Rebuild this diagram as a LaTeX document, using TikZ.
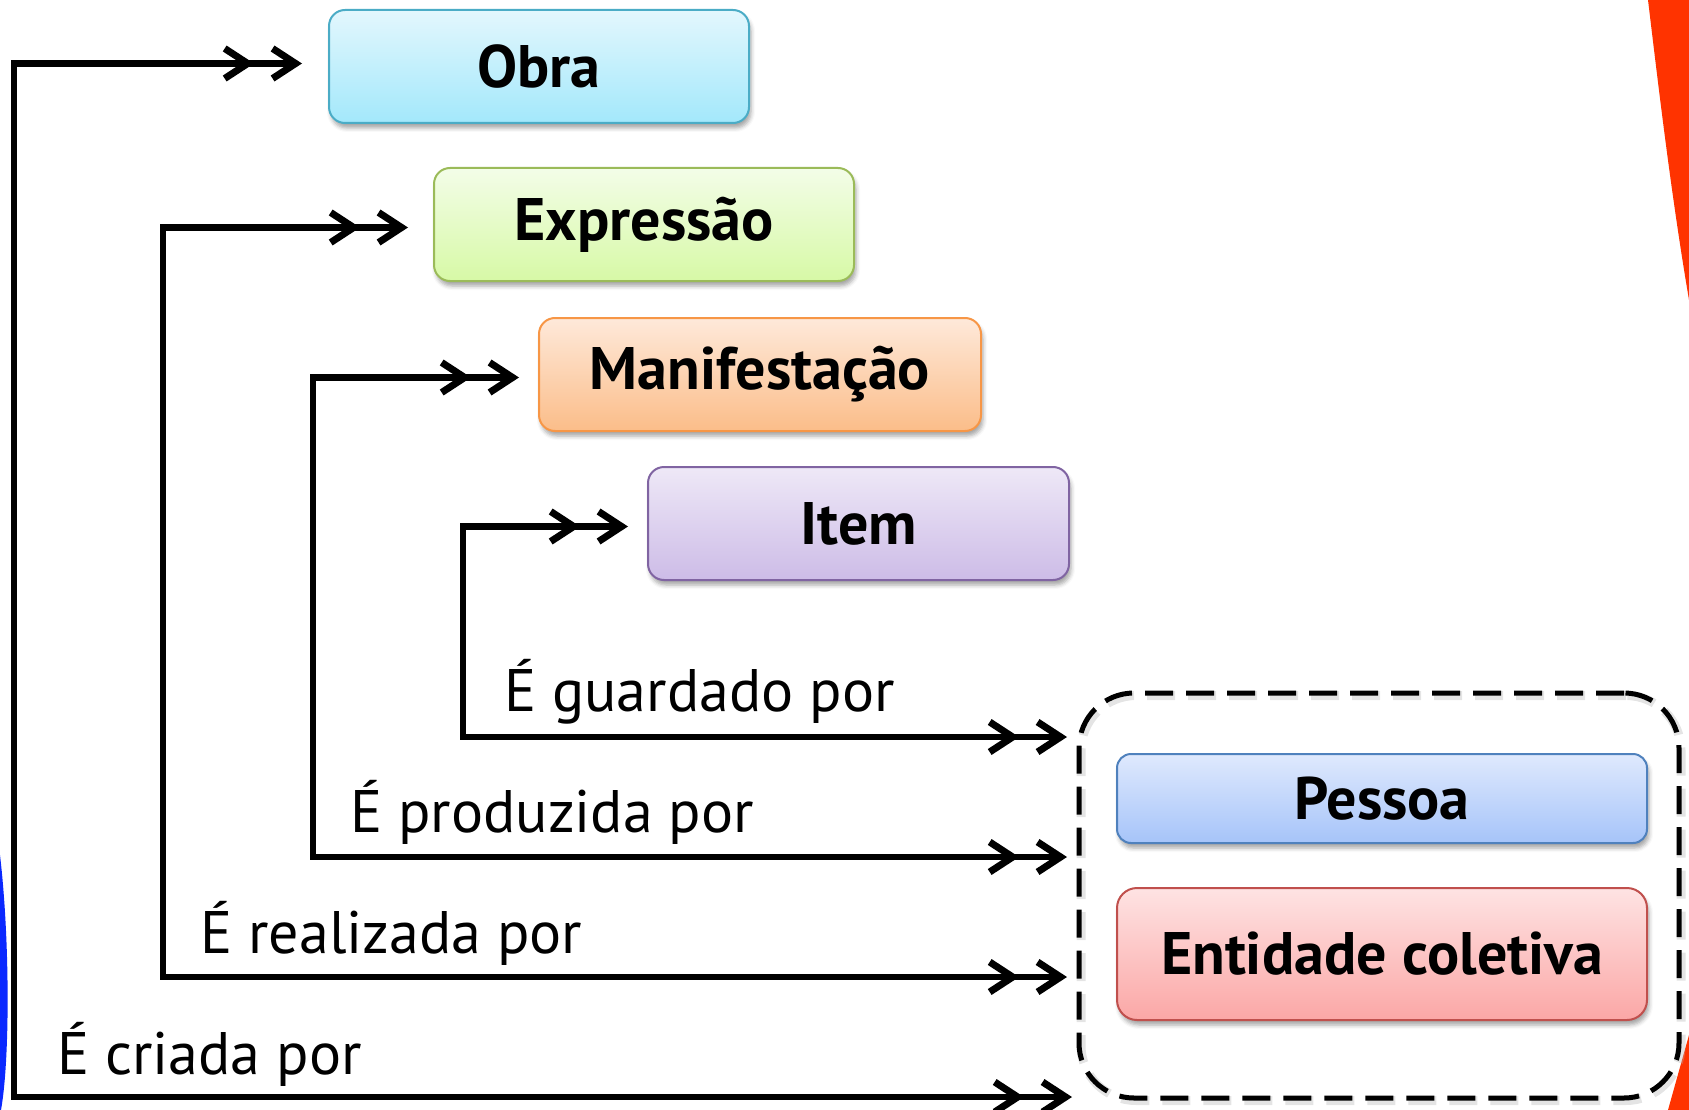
\documentclass[tikz,border=0pt]{standalone}
\usepackage{fontspec}
\setmainfont{PT Sans}
\usetikzlibrary{arrows.meta,shadows.blur}
\definecolor{obraTop}{HTML}{E3F7FD}\definecolor{obraBot}{HTML}{A3E8FB}\definecolor{obraLine}{HTML}{4BACC6}
\definecolor{exprTop}{HTML}{F3FDE8}\definecolor{exprBot}{HTML}{D7F9A6}\definecolor{exprLine}{HTML}{9BBB59}
\definecolor{manTop}{HTML}{FEE9DA}\definecolor{manBot}{HTML}{FBBD89}\definecolor{manLine}{HTML}{F79646}
\definecolor{itemTop}{HTML}{EEE8F7}\definecolor{itemBot}{HTML}{CDBCE7}\definecolor{itemLine}{HTML}{8064A2}
\definecolor{pesTop}{HTML}{DFE9FD}\definecolor{pesBot}{HTML}{A6C4F9}\definecolor{pesLine}{HTML}{4F81BD}
\definecolor{entTop}{HTML}{FEE3E3}\definecolor{entBot}{HTML}{FBA7A6}\definecolor{entLine}{HTML}{C0504D}
\definecolor{decoRed}{HTML}{FF3300}\definecolor{decoBlue}{HTML}{0A28FF}
\begin{document}
\begin{tikzpicture}[x=1pt,y=-1pt,
  box/.style={draw, line width=2pt, rounded corners=16pt, minimum height=113pt,
    minimum width=420pt, inner sep=0pt, outer sep=0pt,
    font=\fontsize{60}{66}\selectfont\bfseries,
    blur shadow={shadow xshift=2pt, shadow yshift=-5pt, shadow blur radius=4pt, shadow opacity=35}},
  grp/.style={draw, line width=5pt, rounded corners=55pt, dash pattern=on 28pt off 13pt,
    minimum width=600pt, minimum height=405pt, inner sep=0pt, outer sep=0pt},
  grpshadow/.style={grp, draw=gray!60, line width=9pt, opacity=.35},
  lbl/.style={anchor=base west, inner sep=0pt, font=\fontsize{60}{66}\selectfont},
  conn/.style={line width=6.5pt,
    arrows={Straight Barb[length=23pt,width=30pt,line width=7pt,sep=15pt]Straight Barb[length=23pt,width=30pt,line width=7pt,sep=15pt]-Straight Barb[length=23pt,width=30pt,line width=7pt,sep=15pt]Straight Barb[length=23pt,width=30pt,line width=7pt,sep=15pt]}}
]
\useasboundingbox (0,0) rectangle (1689,1110);
% slide decorations
\fill[decoRed] (1648,0) .. controls (1660,100) and (1672,200) .. (1689,300) -- (1689,0) -- cycle;
\fill[decoRed] (1689,1035) -- (1668,1110) -- (1689,1110) -- cycle;
\fill[decoBlue] (0,855) .. controls (10,940) and (10,1060) .. (1,1110) -- (0,1110) -- cycle;

% entity boxes
\node[box, top color=obraTop, bottom color=obraBot, draw=obraLine] (obra) at (539,66.5) {Obra};
\node[box, top color=exprTop, bottom color=exprBot, draw=exprLine] (expr) at (644,224.5) {Expressão};
\node[box, top color=manTop, bottom color=manBot, draw=manLine, minimum width=442pt] (manif) at (760,374.5) {Manifestação};
\node[box, top color=itemTop, bottom color=itemBot, draw=itemLine, minimum width=421pt] (item) at (858.5,523.5) {Item};

% group
\node[grpshadow] (gshadow) at (1381,898) {};
\node[grp] (group) at (1379,895.5) {};
\node[box, top color=pesTop, bottom color=pesBot, draw=pesLine, minimum width=530pt, minimum height=89pt, rounded corners=14pt] (pessoa) at (1382,798.5) {Pessoa};
\node[box, top color=entTop, bottom color=entBot, draw=entLine, minimum width=530pt, minimum height=132pt, rounded corners=20pt] (ent) at (1382,954) {Entidade coletiva};

% connectors
\coordinate (j1) at (14,1097);
\coordinate (j2) at (163,977);
\coordinate (j3) at (313,857);
\coordinate (j4) at (463,737);
\draw[conn, shorten <=12pt, shorten >=-8pt] ([yshift=3pt]obra.west) -| (j1) -- (j1 -| group.west);
\draw[conn, shorten <=11pt, shorten >=-3pt] ([yshift=-3pt]expr.west) -| (j2) -- (j2 -| group.west);
\draw[conn, shorten <=5pt, shorten >=-3pt] ([yshift=-3pt]manif.west) -| (j3) -- (j3 -| group.west);
\draw[conn, shorten <=5pt, shorten >=-3pt] ([yshift=-3pt]item.west) -| (j4) -- (j4 -| group.west);

% labels
\node[lbl] (l4) at (504,711) {É guardado por};
\node[lbl] (l3) at (350,832) {É produzida por};
\node[lbl] (l2) at (200,953) {É realizada por};
\node[lbl] (l1) at (57,1074) {É criada por};
\end{tikzpicture}
\end{document}
